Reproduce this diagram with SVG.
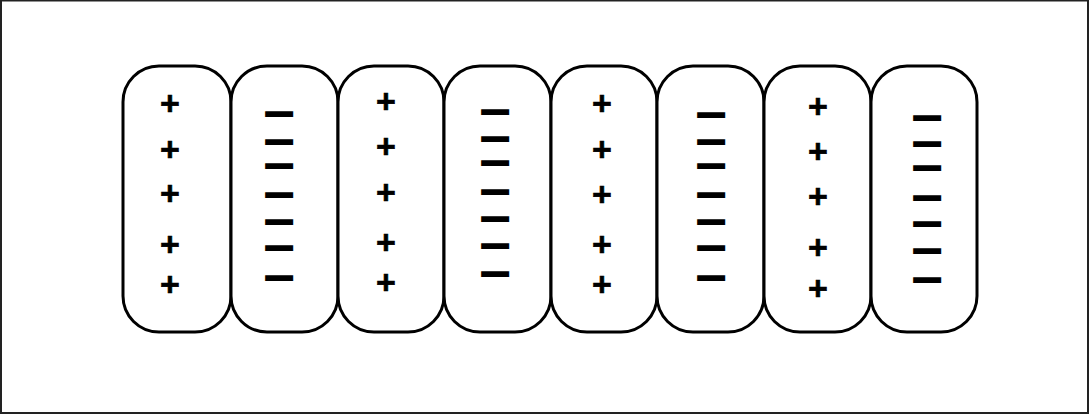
<svg xmlns="http://www.w3.org/2000/svg" width="1089" height="414" viewBox="0 0 1089 414">
<style>
.cell{fill:#fff;stroke:#000;stroke-width:3}
.p{font-family:"Liberation Sans",Arial,sans-serif;font-weight:bold;font-size:34px;text-anchor:middle;dominant-baseline:central;fill:#000;stroke:#000;stroke-width:0.6}
.m{font-family:"Liberation Sans",Arial,sans-serif;font-weight:bold;font-size:20px;text-anchor:middle;dominant-baseline:central;fill:#000;stroke:#000;stroke-width:3.6;stroke-linejoin:miter}
</style>
<rect x="1" y="0.5" width="1087" height="412.5" fill="#fff" stroke="#222" stroke-width="2"/>
<g id="cell1"><rect class="cell" x="123" y="66" width="108" height="266" rx="36" ry="36"/>
<text class="p" x="170" y="103">+</text><text class="p" x="170" y="149">+</text><text class="p" x="170" y="193">+</text><text class="p" x="170" y="244">+</text><text class="p" x="170" y="284">+</text></g>
<g id="cell2"><rect class="cell" x="231" y="66" width="107" height="266" rx="36" ry="36"/>
<text class="m" x="279" y="114" textLength="24" lengthAdjust="spacingAndGlyphs">−</text><text class="m" x="279" y="142" textLength="24" lengthAdjust="spacingAndGlyphs">−</text><text class="m" x="279" y="166" textLength="24" lengthAdjust="spacingAndGlyphs">−</text><text class="m" x="279" y="195" textLength="24" lengthAdjust="spacingAndGlyphs">−</text><text class="m" x="279" y="222" textLength="24" lengthAdjust="spacingAndGlyphs">−</text><text class="m" x="279" y="248" textLength="24" lengthAdjust="spacingAndGlyphs">−</text><text class="m" x="279" y="278" textLength="24" lengthAdjust="spacingAndGlyphs">−</text></g>
<g id="cell3"><rect class="cell" x="338" y="66" width="106" height="266" rx="36" ry="36"/>
<text class="p" x="386" y="101">+</text><text class="p" x="386" y="146">+</text><text class="p" x="386" y="192">+</text><text class="p" x="386" y="242">+</text><text class="p" x="386" y="282">+</text></g>
<g id="cell4"><rect class="cell" x="444" y="66" width="107" height="266" rx="36" ry="36"/>
<text class="m" x="495" y="112" textLength="24" lengthAdjust="spacingAndGlyphs">−</text><text class="m" x="495" y="139" textLength="24" lengthAdjust="spacingAndGlyphs">−</text><text class="m" x="495" y="163" textLength="24" lengthAdjust="spacingAndGlyphs">−</text><text class="m" x="495" y="192" textLength="24" lengthAdjust="spacingAndGlyphs">−</text><text class="m" x="495" y="219" textLength="24" lengthAdjust="spacingAndGlyphs">−</text><text class="m" x="495" y="246" textLength="24" lengthAdjust="spacingAndGlyphs">−</text><text class="m" x="495" y="274" textLength="24" lengthAdjust="spacingAndGlyphs">−</text></g>
<g id="cell5"><rect class="cell" x="551" y="66" width="106" height="266" rx="36" ry="36"/>
<text class="p" x="602" y="103">+</text><text class="p" x="602" y="149">+</text><text class="p" x="602" y="194">+</text><text class="p" x="602" y="244">+</text><text class="p" x="602" y="284">+</text></g>
<g id="cell6"><rect class="cell" x="657" y="66" width="107" height="266" rx="36" ry="36"/>
<text class="m" x="711" y="115" textLength="24" lengthAdjust="spacingAndGlyphs">−</text><text class="m" x="711" y="142" textLength="24" lengthAdjust="spacingAndGlyphs">−</text><text class="m" x="711" y="166" textLength="24" lengthAdjust="spacingAndGlyphs">−</text><text class="m" x="711" y="195" textLength="24" lengthAdjust="spacingAndGlyphs">−</text><text class="m" x="711" y="222" textLength="24" lengthAdjust="spacingAndGlyphs">−</text><text class="m" x="711" y="248" textLength="24" lengthAdjust="spacingAndGlyphs">−</text><text class="m" x="711" y="278" textLength="24" lengthAdjust="spacingAndGlyphs">−</text></g>
<g id="cell7"><rect class="cell" x="764" y="66" width="107" height="266" rx="36" ry="36"/>
<text class="p" x="818" y="106">+</text><text class="p" x="818" y="151">+</text><text class="p" x="818" y="196">+</text><text class="p" x="818" y="247">+</text><text class="p" x="818" y="288">+</text></g>
<g id="cell8"><rect class="cell" x="871" y="66" width="106" height="266" rx="36" ry="36"/>
<text class="m" x="927" y="118" textLength="24" lengthAdjust="spacingAndGlyphs">−</text><text class="m" x="927" y="144" textLength="24" lengthAdjust="spacingAndGlyphs">−</text><text class="m" x="927" y="168" textLength="24" lengthAdjust="spacingAndGlyphs">−</text><text class="m" x="927" y="198" textLength="24" lengthAdjust="spacingAndGlyphs">−</text><text class="m" x="927" y="224" textLength="24" lengthAdjust="spacingAndGlyphs">−</text><text class="m" x="927" y="251" textLength="24" lengthAdjust="spacingAndGlyphs">−</text><text class="m" x="927" y="280" textLength="24" lengthAdjust="spacingAndGlyphs">−</text></g>
<g id="connectors"/>
</svg>
